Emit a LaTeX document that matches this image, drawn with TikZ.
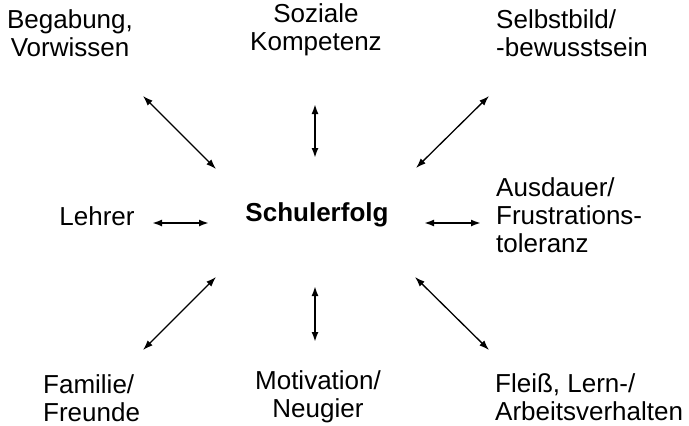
\documentclass[tikz,border=0pt]{standalone}
\usepackage{fontspec}
\setmainfont{Liberation Sans}
\usetikzlibrary{arrows.meta}
\begin{document}
\begin{tikzpicture}[x=1pt,y=-1pt,
  lbl/.style={inner sep=0pt,font=\fontsize{26}{28}\selectfont},
  link/.style={{Latex[length=10pt,width=7pt]}-{Latex[length=10pt,width=7pt]},line width=1.3pt},
  hv/.style={link,line width=1.8pt}]
\useasboundingbox (0,0) rectangle (689,426);
\node[lbl,font=\bfseries\fontsize{26}{28}\selectfont] (c) at (317,215) {Schulerfolg};
\node[lbl,align=center] (tl) at (70,33) {Begabung,\\Vorwissen};
\node[lbl,align=center] (t) at (316,30) {Soziale\\Kompetenz};
\node[lbl,align=left,anchor=west] (tr) at (496,33) {Selbstbild/\\-bewusstsein};
\node[lbl] (l) at (97,216) {Lehrer};
\node[lbl,align=left,anchor=west] (r) at (496,215) {Ausdauer/\\Frustrations-\\toleranz};
\node[lbl,align=left,anchor=west] (bl) at (43,398) {Familie/\\Freunde};
\node[lbl,align=center] (b) at (318,397) {Motivation/\\Neugier};
\node[lbl,align=left,anchor=west] (br) at (495,397) {Fleiß, Lern-/\\Arbeitsverhalten};
% arrow end points
\coordinate (tl1) at (143,96);  \coordinate (tl2) at (216,169);
\coordinate (t1) at (315,104);  \coordinate (t2) at (315,158);
\coordinate (tr1) at (489,96);  \coordinate (tr2) at (416,168);
\coordinate (l1) at (152,223);  \coordinate (l2) at (209,223);
\coordinate (r1) at (424,223);  \coordinate (r2) at (481,223);
\coordinate (bl1) at (216,277); \coordinate (bl2) at (143,350);
\coordinate (b1) at (315,286);  \coordinate (b2) at (315,342);
\coordinate (br1) at (415,277); \coordinate (br2) at (489,350);
\draw[link] (tl1) -- (tl2);
\draw[hv] (t1) -- (t2);
\draw[link] (tr1) -- (tr2);
\draw[hv] (l1) -- (l2);
\draw[hv] (r1) -- (r2);
\draw[link] (bl1) -- (bl2);
\draw[hv] (b1) -- (b2);
\draw[link] (br1) -- (br2);
\end{tikzpicture}
\end{document}
